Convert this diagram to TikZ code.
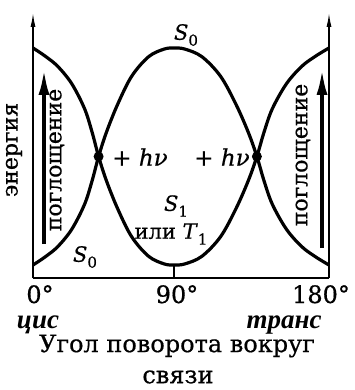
\documentclass[tikz,border=0pt]{standalone}
\usepackage{fontspec}
\setmainfont{DejaVu Serif}[FakeBold=0.6]
\newfontfamily\itf{Liberation Serif}
\usetikzlibrary{arrows.meta}
\newcommand\lsub[1]{\raisebox{-0.28em}{\fontsize{15}{15}\selectfont #1}}
\begin{document}
\begin{tikzpicture}[x=1pt,y=-1pt,
  lbl/.style={inner sep=0pt, font=\fontsize{21}{24}\selectfont},
  big/.style={inner sep=0pt, font=\fontsize{24}{28}\selectfont},
  itl/.style={inner sep=0pt, font=\fontsize{27}{30}\selectfont\itf\bfseries\itshape},
  vlbl/.style={inner sep=0pt, rotate=90, font=\fontsize{22}{24}\selectfont},
  curve/.style={line width=3.2pt, line join=round},
  axisline/.style={line width=1.3pt, -{Latex[length=14pt,width=5pt]}},
  bigarrow/.style={line width=3.6pt, -{Latex[length=26pt,width=11pt]}},
  dotc/.style={circle, fill=black, inner sep=0pt, minimum size=10pt}]
\useasboundingbox (0,0) rectangle (354,390);
% axes
\coordinate (O) at (33,278);
\coordinate (E) at (329,278);
\coordinate (Ltop) at (33,13);
\coordinate (Rtop) at (329,13);
\coordinate (Mb) at (174,278);
\coordinate (Mt) at (174,265);
\draw[line width=2pt] (O) -- (E);
\draw[axisline] (O) -- (Ltop);
\draw[axisline] (E) -- (Rtop);
\draw[line width=1.3pt] (Mb) -- (Mt);
% curves
\draw[curve] plot[smooth, tension=0.55] coordinates {
 (33,265) (45,257) (57.8,246.6) (71.8,229.2) (84.6,204.2) (92.2,180.4) (98.6,156.5)
 (106.3,132.6) (117.6,104.4) (131.7,76.2) (148.6,56.7) (164.1,49.1) (174,48)
 (184.9,49.1) (201.9,56.7) (220.5,76.2) (236,104.4) (248.4,132.6) (256.9,156.5)
 (263.9,180.4) (272.3,204.2) (286.4,229.2) (301.7,246.6) (315.8,257) (329,265)};
\draw[curve] plot[smooth, tension=0.55] coordinates {
 (33,48) (45,56) (57.8,66.4) (71.8,83.8) (84.6,108.8) (92.2,132.6) (98.6,156.5)
 (106.3,180.4) (117.6,208.6) (131.7,236.8) (148.6,256.3) (164.1,263.9) (174,265)
 (184.9,263.9) (201.9,256.3) (220.5,236.8) (236,208.6) (248.4,180.4) (256.9,156.5)
 (263.9,132.6) (272.3,108.8) (286.4,83.8) (301.7,66.4) (315.8,56) (329,48)};
% crossing dots
\node[dotc] (xl) at (98.6,156.5) {};
\node[dotc] (xr) at (256.9,156.5) {};
% absorption arrows
\coordinate (al0) at (44,244);
\coordinate (al1) at (44,69);
\coordinate (ar0) at (322,248);
\coordinate (ar1) at (322,69);
\draw[bigarrow] (al0) -- (al1);
\draw[bigarrow] (ar0) -- (ar1);
% labels
\node[vlbl] (en) at (14,150) {энергия};
\node[vlbl] (pl) at (57,160) {поглощение};
\node[vlbl] (pr) at (303,155) {поглощение};
\node[lbl] (s0t) at (186,35) {\textit{S}\lsub{0}};
\node[lbl, font=\fontsize{23}{26}\selectfont] (hvl) at (140,157) {+ \textit{h}\textit{ν}};
\node[lbl, font=\fontsize{23}{26}\selectfont] (hvr) at (222,157) {+ \textit{h}\textit{ν}};
\node[lbl] (s1) at (176,206) {\textit{S}\lsub{1}};
\node[lbl] (t1) at (171,234) {или \textit{T}\lsub{1}};
\node[lbl] (s0b) at (85,257) {\textit{S}\lsub{0}};
\node[big, anchor=base] (d0) at (40,303) {0°};
\node[big, anchor=base] (d90) at (177,303) {90°};
\node[big, anchor=base] (d180) at (321,303) {180°};
\node[itl, anchor=base] (cis) at (38,328) {цис};
\node[itl, anchor=base] (trans) at (284,328) {транс};
\node[big] (ang1) at (177,346) {Угол поворота вокруг};
\node[big] (ang2) at (178,377) {связи};
\end{tikzpicture}
\end{document}
